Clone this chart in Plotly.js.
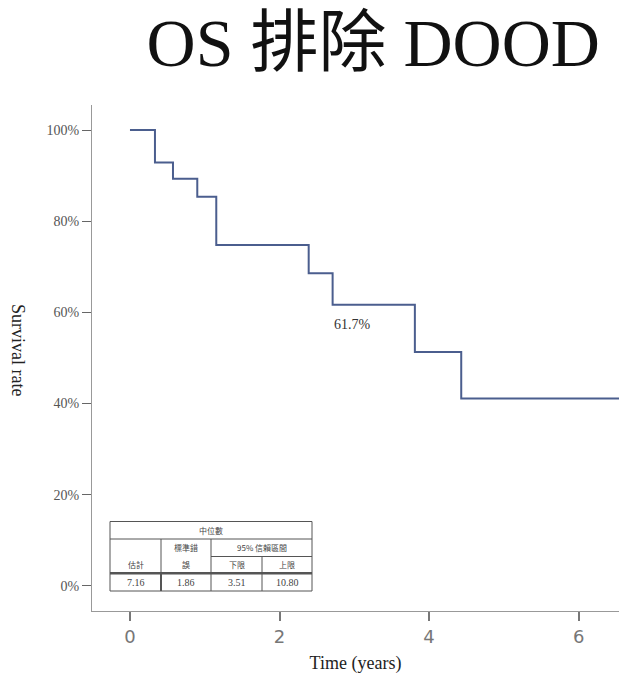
<!DOCTYPE html>
<html><head><meta charset="utf-8">
<script src="https://cdn.plot.ly/plotly-3.0.1.min.js"></script>
<style>html,body{margin:0;padding:0;background:#fff;}#chart{width:619px;height:675px;}</style>
</head><body><div id="chart"></div>
<script>
// Kaplan-Meier step data
var timeYears = [0, 0.334, 0.575, 0.90, 1.154, 2.39, 2.71, 3.81, 4.43, 6.55];
var survival  = [100, 92.9, 89.3, 85.4, 74.8, 68.6, 61.7, 51.3, 41.1, 41.1];
var yTickVals = [0, 20, 40, 60, 80, 100];
var yTickText = ['0%', '20%', '40%', '60%', '80%', '100%'];
var xTickVals = [0, 2, 4, 6];
var medianLabel = '61.7%';
// Median survival table
var tableTitle = '中位數';
var tableHeads = ['估計', '標準錯', '誤', '95% 信賴區間', '下限', '上限'];
var tableValues = ['7.16', '1.86', '3.51', '10.80'];

var W = 619, H = 675, L = 92, R = 0, T = 105, B = 64;
function px(x){ return (x - L) / (W - L - R); }
function py(y){ return (H - B - y) / (H - T - B); }

var serif = 'Liberation Serif, Times New Roman, serif';
var cjk = 'Noto Sans CJK TC, Liberation Serif, serif';

var trace = {
  x: timeYears, y: survival, type: 'scatter', mode: 'lines',
  line: {shape: 'hv', color: '#4b5e8e', width: 2}, hoverinfo: 'skip'
};

// table geometry (pixels)
var tx0 = 110, tx1 = 312, c1 = 161, c2 = 211, c3 = 262;
var r0 = 521.5, r1 = 539, r2 = 556.5, r3 = 573.3, r4 = 591;
var lc = '#555';
function hline(x0, x1, y, w){ return {type:'line', xref:'paper', yref:'paper', x0:px(x0), x1:px(x1), y0:py(y), y1:py(y), line:{color:lc, width:w||1}}; }
function vline(x, y0, y1, w){ return {type:'line', xref:'paper', yref:'paper', x0:px(x), x1:px(x), y0:py(y0), y1:py(y1), line:{color:lc, width:w||1}}; }
var shapes = [
  {type:'rect', xref:'paper', yref:'paper', x0:px(tx0), x1:px(tx1), y0:py(r4), y1:py(r0), fillcolor:'#fff', line:{color:lc, width:1}},
  hline(tx0, tx1, r1), hline(c2, tx1, r2), hline(tx0, tx1, r3, 2.5),
  vline(c1, r1, r3), vline(c1, r3, r4, 2), vline(c2, r1, r4), vline(c3, r2, r4)
];
function txt(x, y, s, size, fam){ return {xref:'paper', yref:'paper', x:px(x), y:py(y), text:s, showarrow:false, xanchor:'center', yanchor:'middle', font:{family:fam||cjk, size:size||8, color:'#444'}}; }
var annotations = [
  {x: 2.98, y: 57.4, xref:'x', yref:'y', text: medianLabel, showarrow:false, font:{family:serif, size:14, color:'#333'}},
  {xref:'paper', yref:'paper', x: px(18), y: py(350), text: 'Survival rate', textangle: 90, showarrow:false,
   xanchor:'center', yanchor:'middle', font:{family:serif, size:18, color:'#222'}},
  txt((tx0+tx1)/2, (r0+r1)/2, tableTitle),
  txt((tx0+c1)/2, (r2+r3)/2, tableHeads[0]),
  txt((c1+c2)/2, (r1+r2)/2, tableHeads[1]),
  txt((c1+c2)/2, (r2+r3)/2, tableHeads[2]),
  txt((c2+tx1)/2, (r1+r2)/2, tableHeads[3]),
  txt((c2+c3)/2, (r2+r3)/2, tableHeads[4]),
  txt((c3+tx1)/2, (r2+r3)/2, tableHeads[5]),
  txt((tx0+c1)/2, (r3+r4)/2, tableValues[0], 10, serif),
  txt((c1+c2)/2, (r3+r4)/2, tableValues[1], 10, serif),
  txt((c2+c3)/2, (r3+r4)/2, tableValues[2], 10, serif),
  txt((c3+tx1)/2, (r3+r4)/2, tableValues[3], 10, serif)
];

var layout = {
  width: W, height: H,
  margin: {l: L, r: R, t: T, b: B},
  paper_bgcolor: '#fff', plot_bgcolor: '#fff',
  showlegend: false,
  title: {text: 'OS 排除 DOOD', x: 0.603, xanchor: 'center', y: 0.938, yanchor: 'middle',
          font: {family: 'Liberation Serif, Noto Sans CJK TC, serif', size: 68, color: '#111'}},
  xaxis: {range: [-0.508, 6.54], tickvals: xTickVals, ticks: 'outside', ticklen: 9, tickwidth: 2, tickcolor: '#777',
          showline: true, linecolor: '#999', linewidth: 1, showgrid: false, zeroline: false,
          tickfont: {family: 'DejaVu Sans, sans-serif', size: 18, color: '#777'},
          title: {text: 'Time (years)', font: {family: serif, size: 18, color: '#222'}, standoff: 10}},
  yaxis: {range: [-5.5, 105.5], tickvals: yTickVals, ticktext: yTickText, ticks: 'outside', ticklen: 9, tickwidth: 1, tickcolor: '#666',
          showline: true, linecolor: '#999', linewidth: 1, showgrid: false, zeroline: false,
          tickfont: {family: serif, size: 14, color: '#555'}},
  shapes: shapes,
  annotations: annotations
};
Plotly.newPlot('chart', [trace], layout, {displayModeBar: false, staticPlot: true});
</script></body></html>
